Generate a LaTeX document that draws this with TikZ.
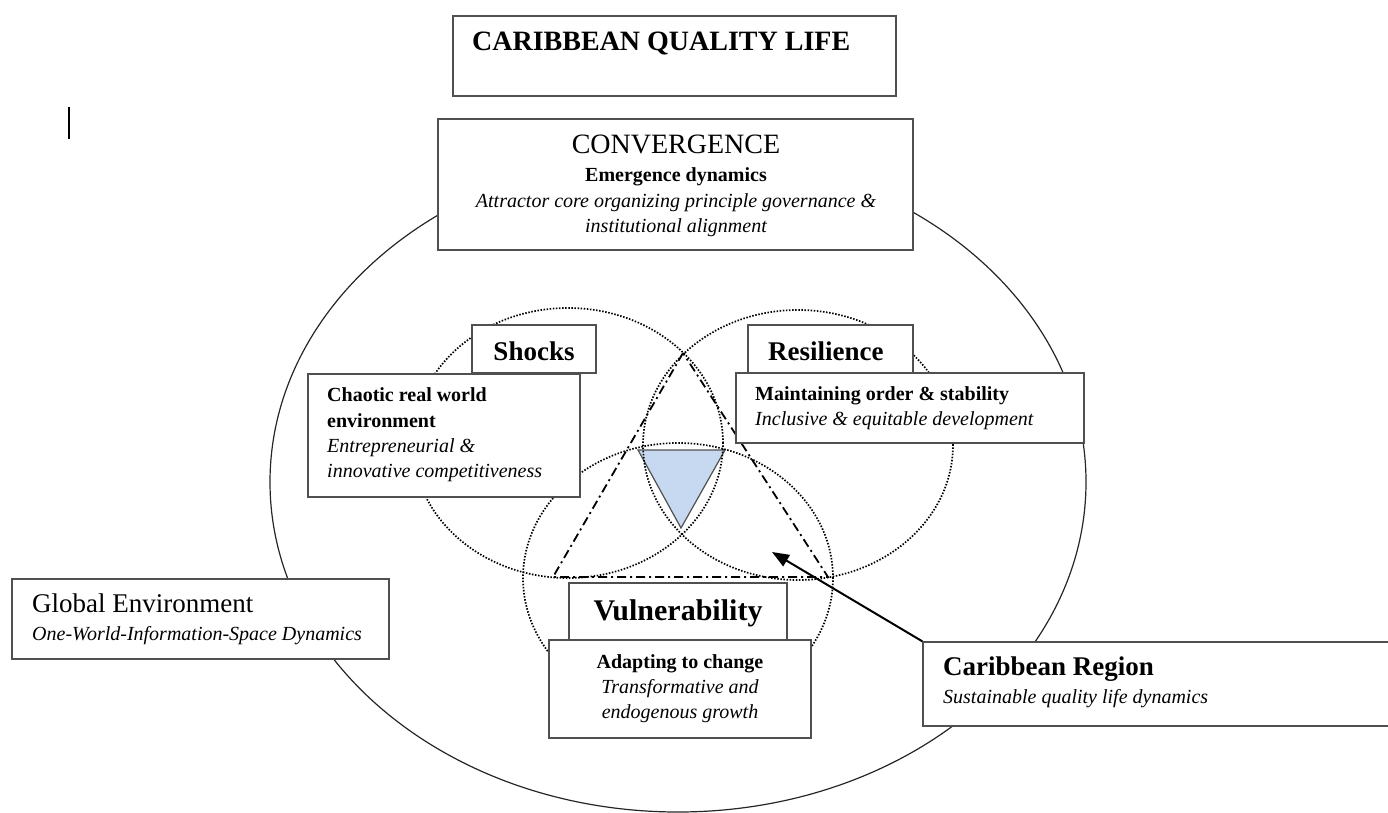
\documentclass[tikz,border=0pt]{standalone}
\usepackage{fontspec}
\setmainfont{Liberation Serif}
\usetikzlibrary{arrows.meta,fit}
\definecolor{edgegray}{HTML}{505050}
\definecolor{corefill}{HTML}{C6D9F0}
\begin{document}
\begin{tikzpicture}[x=1pt,y=-1pt,
  box/.style={draw=edgegray,line width=1.3pt,fill=white,inner sep=0pt},
  ring/.style={draw=black,line width=1.7pt,dash pattern=on 1.5pt off 1.6pt},
  dashdot/.style={draw=black,line width=1.8pt,dash pattern=on 9pt off 4pt on 2pt off 4pt},
  bighead/.style={font=\fontsize{28}{32}\selectfont\bfseries},
  bigreg/.style={font=\fontsize{28}{32}\selectfont},
  heading/.style={font=\fontsize{27}{31}\selectfont\bfseries},
  bodybf/.style={font=\fontsize{20}{24}\selectfont\bfseries},
  bodyit/.style={font=\fontsize{20}{24}\selectfont\itshape},
  txt/.style={inner sep=0pt}]
\useasboundingbox (0,0) rectangle (1388,813);

% outer region
\draw[draw=black!85,line width=1.2pt] (678,482) ellipse [x radius=408pt, y radius=330pt];

% core triangle
\coordinate (c1) at (638,450);
\coordinate (c2) at (725,450);
\coordinate (c3) at (681,528);
\filldraw[fill=corefill,draw=edgegray,line width=1.2pt] (c1) -- (c2) -- (c3) -- cycle;

% three overlapping fields
\draw[ring] (568,443) ellipse [x radius=155pt, y radius=135pt];
\draw[ring] (798,445) ellipse [x radius=155pt, y radius=135pt];
\draw[ring] (678,578) ellipse [x radius=155pt, y radius=135pt];

% dash-dot triangle
\coordinate (tA) at (683,353);
\coordinate (tB) at (553,577);
\coordinate (tC) at (828,577);
\draw[dashdot] (tA) -- (tB) -- (tC) -- cycle;

% boxes
\node[box,fit={(453,16) (896,96)}] (titlebox) {};
\node[box,fit={(438,119) (913,250)}] (convbox) {};
\node[box,fit={(472,325) (596,373)}] (shockbox) {};
\node[box,fit={(308,374) (580,497)}] (chaosbox) {};
\node[box,fit={(748,325) (913,373)}] (resbox) {};
\node[box,fit={(736,373) (1084,443)}] (orderbox) {};
\node[box,fit={(569,583) (787,640)}] (vulnbox) {};
\node[box,fit={(549,640) (811,738)}] (adaptbox) {};
\node[box,fit={(12,579) (389,659)}] (globalbox) {};
\node[box,fit={(923,642) (1392,726)}] (regionbox) {};

% texts
\node[txt,bighead,anchor=base west] (ttitle) at (472,51) {CARIBBEAN QUALITY LIFE};

\node[txt,bigreg,anchor=base] (tconv) at (676,154) {CONVERGENCE};
\node[txt,bodybf,anchor=base] (tconv1) at (676,182) {Emergence dynamics};
\node[txt,bodyit,anchor=base] (tconv2) at (676,207) {Attractor core organizing principle governance \&};
\node[txt,bodyit,anchor=base] (tconv3) at (676,232) {institutional alignment};

\node[txt,heading,anchor=base] (tshock) at (534,360) {Shocks};
\node[txt,bodybf,anchor=base west] (tch1) at (327,401) {Chaotic real world};
\node[txt,bodybf,anchor=base west] (tch2) at (327,427) {environment};
\node[txt,bodyit,anchor=base west] (tch3) at (327,452) {Entrepreneurial \&};
\node[txt,bodyit,anchor=base west] (tch4) at (327,477) {innovative competitiveness};

\node[txt,heading,anchor=base west] (tres) at (768,360) {Resilience};
\node[txt,bodybf,anchor=base west] (tord1) at (755,400) {Maintaining order \& stability};
\node[txt,bodyit,anchor=base west] (tord2) at (755,425) {Inclusive \& equitable development};

\node[txt,font=\fontsize{30}{34}\selectfont\bfseries,anchor=base] (tvuln) at (678,620) {Vulnerability};
\node[txt,bodybf,anchor=base] (tad1) at (680,668) {Adapting to change};
\node[txt,bodyit,anchor=base] (tad2) at (680,693) {Transformative and};
\node[txt,bodyit,anchor=base] (tad3) at (680,718) {endogenous growth};

\node[txt,font=\fontsize{27}{31}\selectfont,anchor=base west] (tglob1) at (32,612) {Global Environment};
\node[txt,bodyit,anchor=base west] (tglob2) at (32,640) {One-World-Information-Space Dynamics};

\node[txt,heading,anchor=base west] (treg1) at (943,675) {Caribbean Region};
\node[txt,bodyit,anchor=base west] (treg2) at (943,703) {Sustainable quality life dynamics};

% pointer from the region box into the core
\coordinate (tip) at (772,552);
\draw[line width=2pt,-{Triangle[length=17pt,width=13pt]}] (regionbox.north west) -- (tip);

% text cursor mark
\coordinate (cur1) at (69,107);
\coordinate (cur2) at (69,139);
\draw[line width=2pt] (cur1) -- (cur2);
\end{tikzpicture}
\end{document}
